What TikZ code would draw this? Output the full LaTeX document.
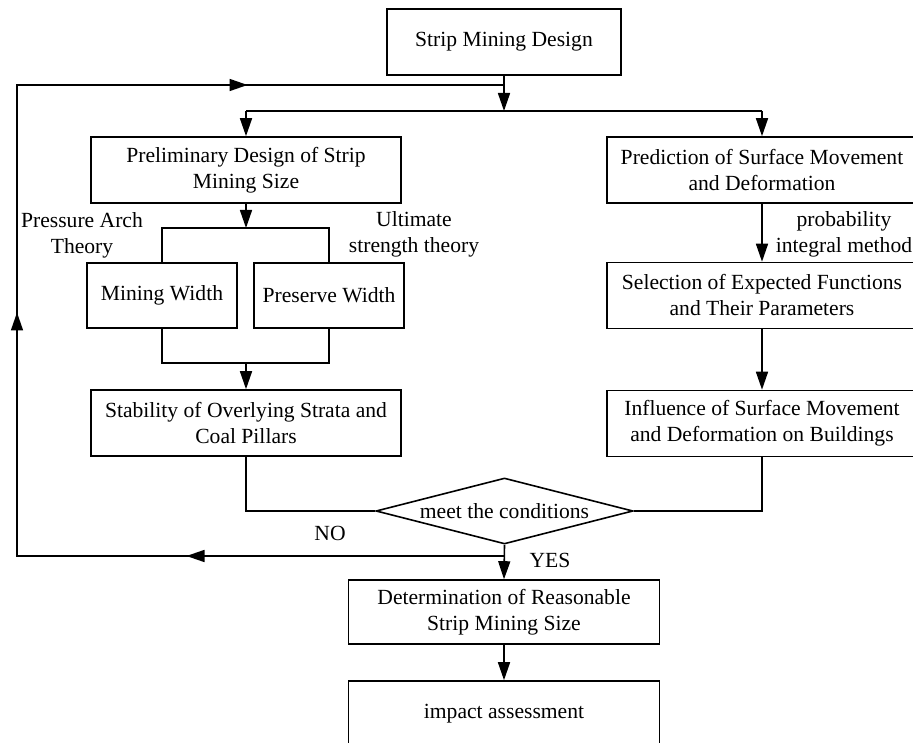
\documentclass[tikz,border=0pt]{standalone}
\usepackage{fontspec}
\setmainfont{Liberation Serif}
\usetikzlibrary{arrows.meta,shapes.geometric,decorations.markings}
\begin{document}
\begin{tikzpicture}[x=1pt,y=-1pt, line width=1.6pt,
  every node/.style={font=\fontsize{21.6}{26}\selectfont, inner sep=0pt},
  box/.style={draw, rectangle, align=center},
  wide/.style={box, minimum width=310pt, minimum height=66pt},
  small/.style={box, minimum width=150pt, minimum height=65pt},
  lbl/.style={align=center},
  tip/.tip={Triangle[length=18pt,width=12pt]},
  arr/.style={-tip}]
\useasboundingbox (0,0) rectangle (913,743);
% boxes
\node[box, minimum width=234pt, minimum height=66pt] (smd) at (504,42) {Strip Mining Design};
\node[wide] (prelim) at (246,170) {Preliminary Design of Strip\\Mining Size};
\node[wide] (pred) at (762,170) {Prediction of Surface Movement\\and Deformation};
\node[small] (mw) at (162,295.5) {Mining Width};
\node[small] (pw) at (329,295.5) {Preserve Width};
\node[wide] (stab) at (246,423) {Stability of Overlying Strata and\\Coal Pillars};
\node[wide] (sel) at (762,295.5) {Selection of Expected Functions\\and Their Parameters};
\node[wide] (infl) at (762,423.5) {Influence of Surface Movement\\and Deformation on Buildings};
\node[draw, diamond, minimum width=257pt, minimum height=66pt] (dec) at (504.5,511) {};
\node (dectext) at (dec.center) {meet the conditions};
\node[wide, minimum width=311pt, minimum height=64pt] (det) at (504,612) {Determination of Reasonable\\Strip Mining Size};
\node[wide, minimum width=311pt, minimum height=65pt] (imp) at (504,713.5) {impact assessment};
% labels
\node[lbl, anchor=north] (pa) at (82,212) {Pressure Arch\\Theory};
\node[lbl, anchor=north] (ut) at (414,211) {Ultimate\\strength theory};
\node[lbl, anchor=north] (pim) at (844,211) {probability\\integral method};
\node[anchor=base] (no) at (330,540) {NO};
\node[anchor=base] (yes) at (550,567) {YES};
% connectors
\coordinate (br) at (504,111);
\draw[arr] (smd.south) -- (br);
\draw (br -| prelim.north) -- (br -| pred.north);
\draw[arr] (br -| prelim.north) -- (prelim.north);
\draw[arr] (br -| pred.north) -- (pred.north);
\coordinate (bt) at (246,228);
\draw[arr] (prelim.south) -- (bt);
\draw (mw.north) |- (bt) -| (pw.north);
\coordinate (bb) at (246,363);
\draw (mw.south) |- (bb) -| (pw.south);
\draw[arr] (bb) -- (stab.north);
\draw[arr] (pred.south) -- (sel.north);
\draw[arr] (sel.south) -- (infl.north);
\draw (stab.south) |- (dec.west);
\draw (infl.south) |- (dec.east);
\draw[arr] (dec.south) -- (det.north);
\draw[arr] (det.south) -- (imp.north);
% feedback loop
\coordinate (ny) at (504.5,556);
\coordinate (fl) at (17,556);
\coordinate (ft) at (17,85);
\coordinate (fj) at (504,85);
\draw[postaction={decorate}, decoration={markings,
   mark=at position 318pt with {\arrow{tip}},
   mark=at position 731pt with {\arrow{tip}},
   mark=at position 1189pt with {\arrow{tip}}}]
  (ny) -- (fl) -- (ft) -- (fj);
\end{tikzpicture}
\end{document}
